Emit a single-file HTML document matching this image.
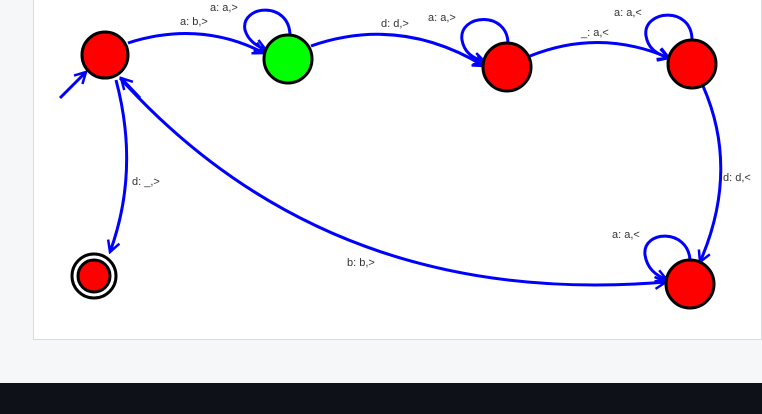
<!DOCTYPE html>
<html><head><meta charset="utf-8"><style>
html,body{margin:0;padding:0;width:762px;height:414px;overflow:hidden;background:#f6f7f9;font-family:"Liberation Sans",sans-serif}
#panel{position:absolute;left:33px;top:-1px;width:729px;height:341px;background:#fff;border:1px solid #d8dbe0;box-sizing:border-box}
#footer{position:absolute;left:0;top:383px;width:762px;height:31px;background:#0e1118}
svg{position:absolute;left:0;top:0}
text{font-family:"Liberation Sans",sans-serif;font-size:11px;fill:#333}
</style></head><body>
<div id="panel"></div>
<div id="footer"></div>
<svg width="762" height="414">
<defs><marker id="ah" markerWidth="14" markerHeight="14" refX="12" refY="7" orient="auto" markerUnits="userSpaceOnUse">
<path d="M1,1 L12,7 L1,13" fill="none" stroke="#0000ff" stroke-width="2.5"/></marker></defs>
<g fill="none" stroke="#0000ff" stroke-width="3">
<path d="M60,98 L86,72" marker-end="url(#ah)"/>
<path d="M128,43 Q200,20 264,53" marker-end="url(#ah)"/>
<path d="M290,36 C290,0 240,5 245,30 C248,40 255,45 266,50" marker-end="url(#ah)"/>
<path d="M311,46 Q400,15 484,66" marker-end="url(#ah)"/>
<path d="M508,44 C508,10 458,14 462,40 C464,52 472,58 485,62" marker-end="url(#ah)"/>
<path d="M530,56 Q600,28 669,58" marker-end="url(#ah)"/>
<path d="M692,40 C692,5 642,10 646,36 C648,48 656,54 669,58" marker-end="url(#ah)"/>
<path d="M703,86 Q740,170 700,262" marker-end="url(#ah)"/>
<path d="M690,260 C688,228 642,230 645,255 C647,268 655,275 667,280" marker-end="url(#ah)"/>
<path d="M120,78 Q330,310 666,282" marker-end="url(#ah)" marker-start="url(#ahs)"/>
<path d="M140,98 L121,78" marker-end="url(#ah)"/>
<path d="M116,80 Q140,170 110,252" marker-end="url(#ah)"/>
</g>
<g stroke="#000" stroke-width="3">
<circle cx="105" cy="55" r="23" fill="#ff0000"/>
<circle cx="288" cy="59" r="24" fill="#00ff00"/>
<circle cx="507" cy="67" r="24" fill="#ff0000"/>
<circle cx="692" cy="64" r="24" fill="#ff0000"/>
<circle cx="690" cy="284" r="24" fill="#ff0000"/>
<circle cx="94" cy="276" r="22" fill="#fff"/>
<circle cx="94" cy="276" r="16" fill="#ff0000"/>
</g>
<text x="180" y="25">a: b,&gt;</text>
<text x="210" y="11">a: a,&gt;</text>
<text x="381" y="27">d: d,&gt;</text>
<text x="428" y="21">a: a,&gt;</text>
<text x="581" y="36">_: a,&lt;</text>
<text x="614" y="16">a: a,&lt;</text>
<text x="723" y="181">d: d,&lt;</text>
<text x="612" y="238">a: a,&lt;</text>
<text x="347" y="266">b: b,&gt;</text>
<text x="132" y="185">d: _,&gt;</text>
</svg>
</body></html>
